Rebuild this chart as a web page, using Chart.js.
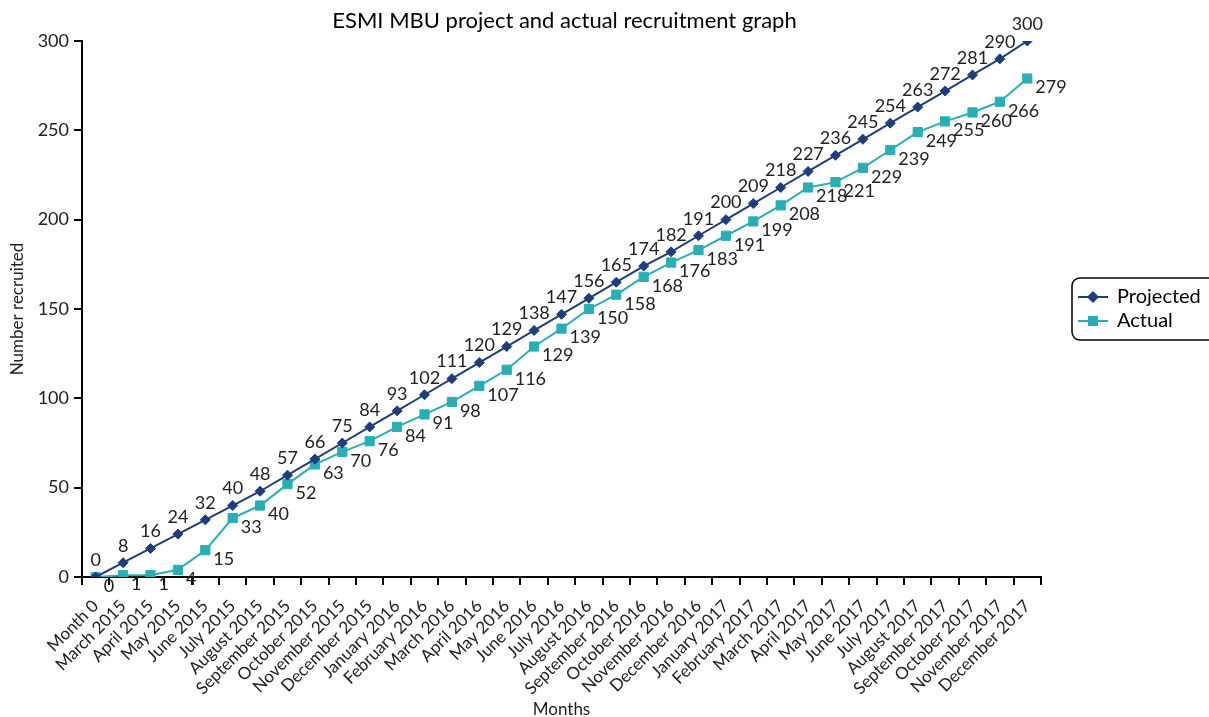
<!DOCTYPE html>
<html>
<head>
<meta charset="utf-8">
<title>ESMI MBU recruitment</title>
<script src="https://cdn.jsdelivr.net/npm/chart.js@4"></script>
<style>
  html, body { margin: 0; padding: 0; background: #fff; }
  #wrap { width: 1209px; height: 717px; position: relative; }
</style>
</head>
<body>
<div id="wrap"><canvas id="myChart" width="1209" height="717"></canvas></div>
<script>
// data
const months = ['Month 0',
  'March 2015','April 2015','May 2015','June 2015','July 2015','August 2015',
  'September 2015','October 2015','November 2015','December 2015',
  'January 2016','February 2016','March 2016','April 2016','May 2016','June 2016',
  'July 2016','August 2016','September 2016','October 2016','November 2016','December 2016',
  'January 2017','February 2017','March 2017','April 2017','May 2017','June 2017',
  'July 2017','August 2017','September 2017','October 2017','November 2017','December 2017'];

const projected = [0,8,16,24,32,40,48,57,66,75,84,93,102,111,120,129,138,147,156,165,
  174,182,191,200,209,218,227,236,245,254,263,272,281,290,300];

const actual = [0,1,1,4,15,33,40,52,63,70,76,84,91,98,107,116,129,139,150,158,
  168,176,183,191,199,208,218,221,229,239,249,255,260,266,279];

const yTicks = [0,50,100,150,200,250,300];

const NAVY = '#1f3d7a';
const TEAL = '#2aaeb4';
const FONT = 'Lato';

// value labels, projected above, actual below-right
const valueLabels = {
  id: 'valueLabels',
  afterDatasetsDraw(chart) {
    const ctx = chart.ctx;
    ctx.save();
    ctx.font = '18px ' + FONT;
    ctx.fillStyle = '#222';
    ctx.textBaseline = 'middle';
    chart.data.datasets.forEach((ds, i) => {
      const meta = chart.getDatasetMeta(i);
      meta.data.forEach((pt, j) => {
        const txt = String(ds.data[j]);
        if (i == 0) {
          ctx.textAlign = 'center';
          ctx.fillText(txt, pt.x, pt.y - 17);
        } else {
          ctx.textAlign = 'left';
          ctx.fillText(txt, pt.x + 8, pt.y + 9);
        }
      });
    });
    ctx.restore();
  }
};

// title + boxed legend on the right
const extras = {
  id: 'extras',
  afterDraw(chart) {
    const ctx = chart.ctx;
    const a = chart.chartArea;
    ctx.save();
    ctx.fillStyle = '#000';
    ctx.font = '22px ' + FONT;
    ctx.textAlign = 'center';
    ctx.textBaseline = 'middle';
    ctx.fillText('ESMI MBU project and actual recruitment graph', (a.left + a.right) / 2 + 3, 21);

    // legend box
    const bx = 1072, by = 278, bw = 150, bh = 62, r = 8;
    ctx.beginPath();
    ctx.moveTo(bx + r, by);
    ctx.lineTo(bx + bw - r, by);
    ctx.arcTo(bx + bw, by, bx + bw, by + r, r);
    ctx.lineTo(bx + bw, by + bh - r);
    ctx.arcTo(bx + bw, by + bh, bx + bw - r, by + bh, r);
    ctx.lineTo(bx + r, by + bh);
    ctx.arcTo(bx, by + bh, bx, by + bh - r, r);
    ctx.lineTo(bx, by + r);
    ctx.arcTo(bx, by, bx + r, by, r);
    ctx.closePath();
    ctx.lineWidth = 1.5;
    ctx.strokeStyle = '#000';
    ctx.stroke();

    const items = [
      {text: 'Projected', color: NAVY, style: 'diamond', y: 297},
      {text: 'Actual', color: TEAL, style: 'square', y: 321}
    ];
    items.forEach(it => {
      ctx.strokeStyle = it.color;
      ctx.fillStyle = it.color;
      ctx.lineWidth = 2;
      ctx.beginPath();
      ctx.moveTo(1078, it.y);
      ctx.lineTo(1108, it.y);
      ctx.stroke();
      ctx.beginPath();
      if (it.style == 'diamond') {
        ctx.moveTo(1093 - 6, it.y);
        ctx.lineTo(1093, it.y - 6);
        ctx.lineTo(1093 + 6, it.y);
        ctx.lineTo(1093, it.y + 6);
      } else {
        ctx.rect(1093 - 5, it.y - 5, 10, 10);
      }
      ctx.closePath();
      ctx.fill();
      ctx.fillStyle = '#000';
      ctx.font = '20px ' + FONT;
      ctx.textAlign = 'left';
      ctx.fillText(it.text, 1117, it.y);
    });
    ctx.restore();
  }
};

const ctx = document.getElementById('myChart').getContext('2d');

const myChart = new Chart(ctx, {
  type: 'line',
  data: {
    labels: months,
    datasets: [{
      label: 'Projected',
      data: projected,
      borderColor: NAVY,
      backgroundColor: NAVY,
      borderWidth: 2,
      pointStyle: 'rectRot',
      pointRadius: 5,
      pointBorderWidth: 1,
      tension: 0
    },
    {
      label: 'Actual',
      data: actual,
      borderColor: TEAL,
      backgroundColor: TEAL,
      borderWidth: 2,
      pointStyle: 'rect',
      pointRadius: 6.5,
      pointBorderWidth: 1,
      tension: 0
    }]
  },
  options: {
    responsive: false,
    animation: false,
    layout: { padding: { top: 41, right: 168, left: 0, bottom: 0 } },
    plugins: {
      legend: { display: false },
      title: { display: false },
      tooltip: { enabled: false }
    },
    scales: {
      x: {
        offset: true,
        afterFit: s => { s.height = 140; },
        grid: { offset: true, drawOnChartArea: false, color: '#000', lineWidth: 2, tickLength: 8 },
        border: { color: '#000', width: 2 },
        ticks: {
          autoSkip: false, minRotation: 45, maxRotation: 45, padding: 11,
          color: '#222', font: { family: FONT, size: 17 }
        },
        title: {
          display: true, text: 'Months', color: '#222',
          font: { family: FONT, size: 17 }, padding: { top: 4, bottom: -3 }
        }
      },
      y: {
        min: 0, max: 300,
        afterFit: s => { s.width = 82; },
        afterBuildTicks: s => { s.ticks = yTicks.map(v => ({ value: v })); },
        grid: { drawOnChartArea: false, color: '#000', lineWidth: 2, tickLength: 8 },
        border: { color: '#000', width: 2 },
        ticks: { padding: 5, color: '#222', font: { family: FONT, size: 18 } },
        title: {
          display: true, text: 'Number recruited', color: '#222',
          font: { family: FONT, size: 17 }, padding: { top: 7, bottom: 0 }
        }
      }
    }
  },
  plugins: [valueLabels, extras]
});
</script>
</body>
</html>
